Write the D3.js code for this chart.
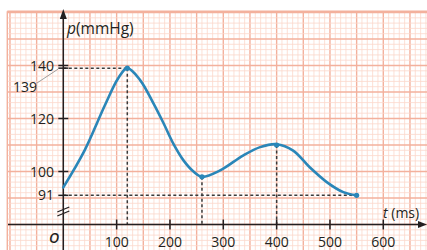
<!DOCTYPE html>
<html><head><meta charset="utf-8">
<script src="https://cdn.jsdelivr.net/npm/d3@7"></script>
<style>html,body{margin:0;padding:0;background:#fff;}svg{display:block;}</style>
</head><body>
<svg id="c" width="427" height="250"></svg>
<script>
// Curve samples
const times     = [0, 40, 78, 103, 120, 144, 169, 188, 206, 225, 244, 260, 294, 337, 369, 400, 431, 462, 494, 525, 550];
const pressures = [94, 108, 125, 135.2, 139, 134.5, 125.7, 118.2, 110.6, 104.3, 100, 98, 100.4, 106, 109.2, 110.3, 107.9, 101.6, 96, 92.2, 91];
// Marked points
const keyTimes     = [120, 260, 400, 550];
const keyPressures = [139, 98, 110, 91];
// Axis ticks
const xTicks = [100, 200, 300, 400, 500, 600];
const yTicks = [100, 120, 140];
const yExtraTicks = [91, 139];

const FONT = "'Open Sans', sans-serif";
const INK = "#231f20";
const svg = d3.select("#c");
const x = d3.scaleLinear().domain([0, 600]).range([63.3, 383.3]);
const y = d3.scaleLinear().domain([80, 160]).range([224.5, 12.5]);

// grid
const grid = svg.append("g");
const tMin = -105, tMax = 690, pMin = 70, pMax = 160.5;
for (let t = -100; t <= tMax; t += 10) {
  const major = t % 50 === 0;
  grid.append("line").attr("x1", x(t)).attr("x2", x(t)).attr("y1", y(pMax)).attr("y2", 250)
    .attr("stroke", major ? "#f3b19d" : "#fbd8cc").attr("stroke-width", major ? 1.4 : 0.8);
}
for (let p = 160; p >= pMin; p -= 2) {
  const major = p % 10 === 0;
  grid.append("line").attr("x1", x(tMin)).attr("x2", 427).attr("y1", y(p)).attr("y2", y(p))
    .attr("stroke", major ? "#f3b19d" : "#fbd8cc").attr("stroke-width", major ? 1.4 : 0.8);
}
grid.append("line").attr("x1", x(tMin)).attr("x2", x(tMin)).attr("y1", y(pMax)).attr("y2", 250)
  .attr("stroke", "#f3b19d").attr("stroke-width", 1.4);
grid.append("line").attr("x1", x(tMin)).attr("x2", 427).attr("y1", y(pMax)).attr("y2", y(pMax))
  .attr("stroke", "#f3b19d").attr("stroke-width", 1.4);

// dashed guides
const dash = svg.append("g").attr("stroke", "#3a3a3a").attr("stroke-width", 1.5).attr("stroke-dasharray", "3,2.5").attr("fill", "none");
dash.append("line").attr("x1", x(0)).attr("x2", x(keyTimes[0])).attr("y1", y(keyPressures[0])).attr("y2", y(keyPressures[0]));
dash.append("line").attr("x1", x(0)).attr("x2", x(keyTimes[3])).attr("y1", y(keyPressures[3])).attr("y2", y(keyPressures[3]));
for (let i = 0; i < 3; i++) {
  dash.append("line").attr("x1", x(keyTimes[i])).attr("x2", x(keyTimes[i])).attr("y1", y(keyPressures[i])).attr("y2", y(80));
}

// axes
const ax = svg.append("g").attr("stroke", INK).attr("fill", "none");
ax.append("line").attr("x1", 8).attr("x2", 422).attr("y1", y(80)).attr("y2", y(80)).attr("stroke-width", 1.5);
ax.append("line").attr("x1", x(0)).attr("x2", x(0)).attr("y1", 250).attr("y2", 16).attr("stroke-width", 1.5);
svg.append("path").attr("d", `M${x(0)},9 L${x(0)-3.5},19 L${x(0)+3.5},19 Z`).attr("fill", INK);
svg.append("path").attr("d", `M427,${y(80)} L418,${y(80)-3.5} L418,${y(80)+3.5} Z`).attr("fill", INK);

// x ticks
const xt = svg.append("g");
xTicks.forEach(t => {
  xt.append("line").attr("x1", x(t)).attr("x2", x(t)).attr("y1", y(80) - 5).attr("y2", y(80) + 5)
    .attr("stroke", INK).attr("stroke-width", 1.5);
  xt.append("text").attr("x", x(t)).attr("y", 247).attr("text-anchor", "middle")
    .attr("font-family", FONT).attr("font-size", 14).attr("font-weight", 500).attr("fill", INK).text(t);
});
// y ticks
const yt = svg.append("g");
yTicks.concat(yExtraTicks).forEach(p => {
  yt.append("line").attr("x1", x(0) - 5).attr("x2", x(0) + 5).attr("y1", y(p)).attr("y2", y(p))
    .attr("stroke", INK).attr("stroke-width", 1.5);
});
yTicks.concat([91]).forEach(p => {
  yt.append("text").attr("x", 54).attr("y", y(p) + 5).attr("text-anchor", "end")
    .attr("font-family", FONT).attr("font-size", 14).attr("font-weight", 500).attr("fill", INK).text(p);
});
// 139 label with leader
yt.append("line").attr("x1", 37).attr("x2", 58).attr("y1", 83).attr("y2", y(139) + 1)
  .attr("stroke", "#888").attr("stroke-width", 0.8);
yt.append("text").attr("x", 37).attr("y", 92).attr("text-anchor", "end")
  .attr("font-family", FONT).attr("font-size", 14).attr("font-weight", 500).attr("fill", INK).text(yExtraTicks[1]);

// axis break
[0, 4].forEach(d => {
  svg.append("line").attr("x1", x(0) - 6).attr("x2", x(0) + 6).attr("y1", 212 + d).attr("y2", 207 + d)
    .attr("stroke", INK).attr("stroke-width", 1.3);
});

// origin and axis titles
svg.append("text").attr("x", 54).attr("y", 243).attr("text-anchor", "middle")
  .attr("font-family", FONT).attr("font-size", 14).attr("font-weight", 600).attr("font-style", "italic").attr("fill", INK).text("O");
const pl = svg.append("text").attr("x", 67).attr("y", 34)
  .attr("font-family", FONT).attr("font-size", 15.5).attr("font-weight", 500).attr("fill", INK);
pl.append("tspan").attr("font-style", "italic").text("p");
pl.append("tspan").text("(mmHg)");
const tl = svg.append("text").attr("x", 383).attr("y", 218)
  .attr("font-family", FONT).attr("font-size", 14).attr("font-weight", 500).attr("fill", INK);
tl.append("tspan").attr("font-style", "italic").text("t");
tl.append("tspan").text(" (ms)");

// curve
const line = d3.line().x((d, i) => x(times[i])).y((d, i) => y(pressures[i])).curve(d3.curveCatmullRom.alpha(0.5));
svg.append("path").datum(times).attr("d", line).attr("fill", "none")
  .attr("stroke", "#2a86b8").attr("stroke-width", 2.6).attr("stroke-linecap", "round");
svg.append("g").selectAll("circle").data(keyTimes).join("circle")
  .attr("cx", d => x(d)).attr("cy", (d, i) => y(keyPressures[i])).attr("r", 2.6).attr("fill", "#2a86b8");
</script>
</body></html>
